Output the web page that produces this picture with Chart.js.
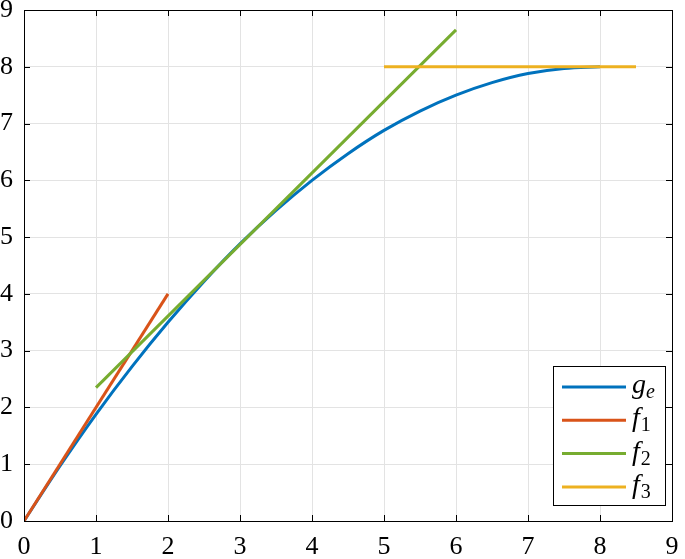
<!DOCTYPE html>
<html>
<head>
<meta charset="utf-8">
<script src="https://cdn.jsdelivr.net/npm/chart.js@4.4.0/dist/chart.umd.min.js"></script>
<style>
  html, body { margin: 0; padding: 0; background: #fff; }
  #wrap { width: 685px; height: 559px; }
  .pre { font-family: "Liberation Serif"; position: absolute; left: -999px; }
</style>
</head>
<body>
<span class="pre">0123 <i>gf</i></span>
<div id="wrap"><canvas id="chart" width="685" height="559"></canvas></div>
<script>
// values
const geX = [0, 0.5, 1, 1.5, 2, 2.5, 3, 3.5, 4, 4.5, 5, 5.5, 6, 6.5, 7, 7.5, 8]
const geY = [0, 0.97, 1.88, 2.72, 3.5, 4.22, 4.88, 5.47, 6, 6.47, 6.88, 7.22, 7.5, 7.72, 7.88, 7.97, 8]
const f1X = [0, 2]
const f1Y = [0, 4]
const f2X = [1, 6]
const f2Y = [2.35, 8.65]
const f3X = [5, 8.5]
const f3Y = [8, 8]

const names = [['g', 'e'], ['f', '1'], ['f', '2'], ['f', '3']]
const colors = ['#0072BD', '#D95319', '#77AC30', '#EDB120']

const SERIF = 'Liberation Serif'

function pts(xs, ys) {
    return xs.map((x, i) => ({ x: x, y: ys[i] }))
}

const series = [pts(geX, geY), pts(f1X, f1Y), pts(f2X, f2Y), pts(f3X, f3Y)]

// inward ticks + box on top/right + legend
const boxPlugin = {
    id: 'box',
    afterDraw(chart) {
        const ctx = chart.ctx
        const a = chart.chartArea
        const xs = chart.scales.x, ys = chart.scales.y
        ctx.save()
        ctx.strokeStyle = '#000'
        ctx.lineWidth = 1
        ctx.beginPath()
        for (let v = 0; v <= 9; v++) {
            const px = Math.round(xs.getPixelForValue(v)) + 0.5
            ctx.moveTo(px, a.bottom); ctx.lineTo(px, a.bottom - 6)
            ctx.moveTo(px, a.top); ctx.lineTo(px, a.top + 6)
            const py = Math.round(ys.getPixelForValue(v)) + 0.5
            ctx.moveTo(a.left, py); ctx.lineTo(a.left + 6, py)
            ctx.moveTo(a.right, py); ctx.lineTo(a.right - 6, py)
        }
        ctx.stroke()
        ctx.strokeRect(Math.round(a.left) + 0.5, Math.round(a.top) + 0.5,
            Math.round(a.right - a.left), Math.round(a.bottom - a.top))

        // legend
        const lx = 553, ly = 366, lw = 112, lh = 139
        ctx.fillStyle = '#fff'
        ctx.fillRect(lx, ly, lw, lh)
        ctx.strokeRect(lx + 0.5, ly + 0.5, lw, lh)
        names.forEach((n, i) => {
            const y = 387 + i * 33.3
            ctx.strokeStyle = colors[i]
            ctx.lineWidth = 3
            ctx.beginPath()
            ctx.moveTo(562, y); ctx.lineTo(626, y)
            ctx.stroke()
            ctx.fillStyle = '#000'
            ctx.textBaseline = 'alphabetic'
            ctx.font = 'italic 28px "' + SERIF + '"'
            ctx.fillText(n[0], 632, y + 6)
            const w = ctx.measureText(n[0]).width
            ctx.font = (n[1] === 'e' ? 'italic ' : '') + '20px "' + SERIF + '"'
            ctx.fillText(n[1], 632 + w + (n[0] === 'f' ? 1 : 0), y + 11)
        })
        ctx.restore()
    }
}

function draw() {
    new Chart(document.getElementById('chart'), {
        type: 'scatter',
        data: {
            datasets: series.map((d, i) => ({
                label: names[i].join(''),
                data: d,
                showLine: true,
                borderColor: colors[i],
                backgroundColor: colors[i],
                borderWidth: 3,
                pointRadius: 0,
                cubicInterpolationMode: 'monotone',
                order: 4 - i
            }))
        },
        options: {
            responsive: false,
            animation: false,
            layout: { autoPadding: false, padding: { top: 10, right: 13, left: 0, bottom: 0 } },
            plugins: { legend: { display: false }, tooltip: { enabled: false } },
            scales: {
                x: {
                    type: 'linear', min: 0, max: 9,
                    ticks: { stepSize: 1, color: '#000', padding: 11, font: { family: SERIF, size: 26 } },
                    grid: { color: '#e3e3e3', drawTicks: false },
                    border: { display: false },
                    afterFit(s) { s.height = 38; s.paddingLeft = 0; s.paddingRight = 0 }
                },
                y: {
                    type: 'linear', min: 0, max: 9,
                    ticks: { stepSize: 1, color: '#000', padding: 11, font: { family: SERIF, size: 26 } },
                    grid: { color: '#e3e3e3', drawTicks: false },
                    border: { display: false },
                    afterFit(s) { s.width = 24; s.paddingTop = 0; s.paddingBottom = 0 }
                }
            }
        },
        plugins: [boxPlugin]
    })
}

Promise.all([
    document.fonts.load('26px "Liberation Serif"'),
    document.fonts.load('italic 28px "Liberation Serif"')
]).then(draw, draw)
</script>
</body>
</html>
